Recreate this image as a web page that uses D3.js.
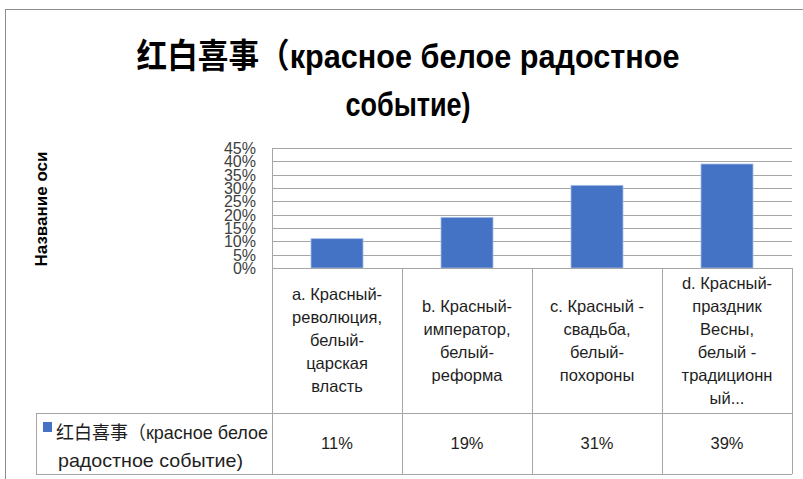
<!DOCTYPE html>
<html><head><meta charset="utf-8">
<script src="https://cdn.jsdelivr.net/npm/d3@7"></script>
<style>
body{margin:0;background:#fff;}
svg{display:block;}
</style></head>
<body>
<svg id="chart" width="803" height="479"></svg>
<script>
const titleLines = ["红白喜事（красное белое радостное", "событие)"];
const categories = ["a", "b", "c", "d"];
const categoryLabels = [
  ["a. Красный-", "революция,", "белый-", "царская", "власть"],
  ["b. Красный-", "император,", "белый-", "реформа"],
  ["c. Красный -", "свадьба,", "белый-", "похороны"],
  ["d. Красный-", "праздник", "Весны,", "белый -", "традиционн", "ый..."]
];
const values = [0.11, 0.19, 0.31, 0.39];
const valueLabels = ["11%", "19%", "31%", "39%"];
const yTicks = [0, 0.05, 0.10, 0.15, 0.20, 0.25, 0.30, 0.35, 0.40, 0.45];
const seriesName = ["红白喜事（красное белое", "радостное событие)"];
const axisTitle = "Название оси";

const svg = d3.select("#chart");
const plotL = 272, plotR = 792, plotT = 148, plotB = 268;
const tableB = 413, legendB = 474, legendL = 36;
const gridColor = "#a6a6a6";
const textColor = "#1e1e1e";
const bodyFont = "'Liberation Sans', 'Noto Sans CJK SC', sans-serif";

// outer border
svg.append("rect").attr("x", 5.5).attr("y", 9.5).attr("width", 820).attr("height", 500)
  .attr("fill", "none").attr("stroke", "#8c8c8c").attr("stroke-width", 1);

const x = d3.scaleBand().domain(categories).range([plotL, plotR]).paddingInner(0.6).paddingOuter(0.3);
const y = d3.scaleLinear().domain([0, 0.45]).range([plotB, plotT]);

// gridlines
svg.append("g").selectAll("line").data(yTicks.slice(1)).join("line")
  .attr("x1", plotL).attr("x2", plotR)
  .attr("y1", d => Math.round(y(d)) + 0.5).attr("y2", d => Math.round(y(d)) + 0.5)
  .attr("stroke", gridColor).attr("stroke-width", 1);

// y axis labels
const yAxis = d3.axisLeft(y).tickValues(yTicks).tickFormat(d3.format(".0%")).tickSize(0).tickPadding(0);
const ya = svg.append("g").attr("transform", `translate(256,0)`).call(yAxis);
ya.select(".domain").remove();
ya.selectAll("text").attr("font-family", bodyFont).attr("font-size", 16).attr("fill", "#404040")
  .attr("dy", "0.35em").attr("dx", 0);

// bars
svg.append("g").selectAll("rect").data(values).join("rect")
  .attr("x", (d, i) => x(categories[i]))
  .attr("width", x.bandwidth())
  .attr("y", d => y(d))
  .attr("height", d => y(0) - y(d))
  .attr("fill", "#4472c4").attr("stroke", "#a9bfe6").attr("stroke-width", 0.8);

// table lines
const t = svg.append("g").attr("stroke", gridColor).attr("stroke-width", 1).attr("fill", "none");
const bounds = [plotL, ...categories.map(c => x(c) + x.bandwidth() / 2 + x.step() / 2)];
t.append("line").attr("x1", plotL).attr("x2", plotR).attr("y1", plotB + 0.5).attr("y2", plotB + 0.5);
t.append("line").attr("x1", legendL).attr("x2", plotR).attr("y1", tableB + 0.5).attr("y2", tableB + 0.5);
t.append("line").attr("x1", legendL).attr("x2", plotR).attr("y1", legendB + 0.5).attr("y2", legendB + 0.5);
t.append("line").attr("x1", plotL + 0.5).attr("x2", plotL + 0.5).attr("y1", plotT).attr("y2", legendB);
bounds.slice(1).forEach(bx => {
  t.append("line").attr("x1", Math.round(bx) + 0.5).attr("x2", Math.round(bx) + 0.5).attr("y1", plotB).attr("y2", legendB);
});
t.append("line").attr("x1", legendL + 0.5).attr("x2", legendL + 0.5).attr("y1", tableB).attr("y2", legendB);

// category labels
const lineH = 23;
const headMid = (plotB + tableB) / 2;
categories.forEach((c, i) => {
  const lines = categoryLabels[i];
  const cx = x(c) + x.bandwidth() / 2;
  const y0 = headMid - (lines.length - 1) * lineH / 2;
  const tx = svg.append("text").attr("text-anchor", "middle").attr("font-family", bodyFont)
    .attr("font-size", 16.5).attr("fill", textColor);
  lines.forEach((ln, j) => {
    tx.append("tspan").attr("x", cx).attr("y", y0 + j * lineH).attr("dy", "0.35em").text(ln);
  });
});

// values row
const legMid = (tableB + legendB) / 2;
svg.append("g").selectAll("text").data(valueLabels).join("text")
  .attr("x", (d, i) => x(categories[i]) + x.bandwidth() / 2)
  .attr("y", legMid).attr("dy", "0.35em").attr("text-anchor", "middle")
  .attr("font-family", bodyFont).attr("font-size", 16.5).attr("fill", textColor)
  .text(d => d);

// legend key
svg.append("rect").attr("x", 43).attr("y", 422).attr("width", 9).attr("height", 10).attr("fill", "#4472c4");
const lt = svg.append("text").attr("font-family", bodyFont).attr("font-size", 18.5).attr("fill", textColor);
seriesName.forEach((ln, j) => {
  lt.append("tspan").attr("x", j === 0 ? 56 : 58).attr("y", 433 + j * 28).attr("dy", "0.35em")
    .attr("textLength", j === 0 ? 212 : 185).attr("lengthAdjust", "spacingAndGlyphs").text(ln);
});

// axis title
svg.append("text").attr("transform", "translate(41,209) rotate(-90)")
  .attr("text-anchor", "middle").attr("dy", "0.35em")
  .attr("font-family", "'Liberation Sans', sans-serif").attr("font-weight", "bold").attr("font-size", 17)
  .attr("fill", "#000").text(axisTitle);

// title
const tt = svg.append("text").attr("text-anchor", "middle").attr("font-family", "'Liberation Sans', 'Noto Sans CJK SC', sans-serif")
  .attr("font-weight", "bold").attr("font-size", 34).attr("fill", "#000");
const titleWidths = [543, 125];
titleLines.forEach((ln, j) => {
  tt.append("tspan").attr("x", 408).attr("y", 56 + j * 48).attr("dy", "0.35em")
    .attr("textLength", titleWidths[j]).attr("lengthAdjust", "spacingAndGlyphs").text(ln);
});
</script>
</body></html>
